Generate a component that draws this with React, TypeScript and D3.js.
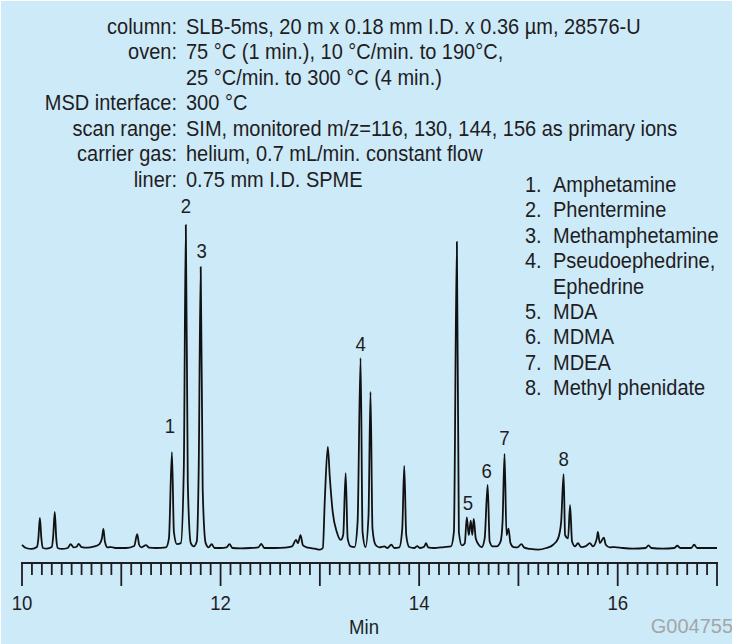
import { useEffect, useRef } from 'react';
import * as d3 from 'd3';

// chromatogram trace (time in min, signal as % of tallest peak)
const times = [
  10.0, 10.04, 10.1, 10.15, 10.165, 10.18, 10.195, 10.21, 10.25, 10.3, 10.315, 10.33, 10.345, 10.36,
  10.4, 10.46, 10.49, 10.52, 10.55, 10.57, 10.6, 10.66, 10.72, 10.78, 10.805, 10.82, 10.835, 10.86,
  10.9, 10.95, 11.05, 11.13, 11.16, 11.18, 11.2, 11.25, 11.28, 11.35, 11.45, 11.48, 11.51, 11.53,
  11.56, 11.6, 11.63, 11.65, 11.67, 11.7, 11.73, 11.76, 11.78, 11.8, 11.82, 11.85, 11.88, 11.91,
  11.94, 12.0, 12.06, 12.09, 12.12, 12.2, 12.3, 12.38, 12.41, 12.44, 12.55, 12.65, 12.72, 12.76,
  12.78, 12.805, 12.83, 12.88, 12.95, 13.0, 13.03, 13.05, 13.08, 13.1, 13.13, 13.17, 13.21, 13.235,
  13.26, 13.28, 13.31, 13.35, 13.38, 13.41, 13.43, 13.46, 13.49, 13.51, 13.53, 13.56, 13.6, 13.65,
  13.68, 13.72, 13.75, 13.8, 13.83, 13.85, 13.87, 13.9, 13.95, 13.98, 14.01, 14.05, 14.07, 14.09,
  14.15, 14.25, 14.32, 14.35, 14.38, 14.4, 14.43, 14.46, 14.48, 14.5, 14.52, 14.535, 14.55, 14.57,
  14.6, 14.63, 14.66, 14.69, 14.71, 14.74, 14.78, 14.82, 14.84, 14.86, 14.88, 14.9, 14.92, 14.95,
  14.99, 15.03, 15.06, 15.12, 15.2, 15.28, 15.35, 15.4, 15.43, 15.455, 15.47, 15.5, 15.52, 15.54,
  15.57, 15.6, 15.63, 15.68, 15.72, 15.75, 15.79, 15.8, 15.82, 15.86, 15.88, 15.92, 15.97, 16.05,
  16.15, 16.28, 16.31, 16.34, 16.45, 16.57, 16.6, 16.63, 16.74, 16.77, 16.8, 16.9, 17.0,
];
const signal = [
  1.0, 0, -0.3, 0.3, 3, 9.3, 3, 0, -0.2, 0.3, 4, 11.2, 3, 0,
  -0.3, 0, 1.2, 0.2, 0.4, 1.3, 0.3, 0.1, 0.4, 1.2, 3, 5.9, 2, 0.2,
  0.3, 0, 0, 0.6, 4.3, 1, 0.2, 0.9, 0.1, 0, 0.2, 3, 29.7, 5,
  1.2, 1.5, 25, 100, 20, 1.5, 0.5, 2, 25, 87, 18, 1.5, 0.2, 1.2,
  0, 0, 0.2, 1.2, 0, -0.1, 0, 0.2, 1.3, 0, 0, 0.1, 0.5, 2.5,
  1.5, 4, 0.8, 0.1, -0.2, -0.5, 0, 15, 31.3, 22, 11, 5, 2.5, 4,
  23.2, 3, 0.5, 0.3, 8, 58.8, 5, 0.3, 10, 48.3, 6, 1, 0.2, 0.5,
  0, 1, 0, 0.2, 6, 25.4, 4, 0.3, 0, 0.6, 0, 0.4, 1.5, 0.2,
  0, 0.3, 0.5, 5, 94.8, 5, 0.8, 1.5, 9.5, 4, 8.5, 4, 9, 3,
  1, 0.3, 3, 19.5, 2, 0.5, 0.5, 2, 8, 29.1, 4, 6, 1.5, 0.3,
  0.2, 1.2, 0.1, -0.3, -0.5, 0, 1, 3, 8, 22.9, 4, 3, 13.3, 2,
  0.5, 1.5, 0.3, 0.6, 1.5, 0.5, 3, 5, 1.5, 3.2, 1, 0.2, 0.3, 0,
  -0.2, 0, 0.8, 0, -0.2, 0, 0.7, 0, 0, 1, 0, 0, 0,
];

const peakNumbers = ['1', '2', '3', '4', '5', '6', '7', '8'];
const peakLabelTimes = [11.49, 11.65, 11.81, 13.41, 14.49, 14.68, 14.86, 15.455];
const peakLabelLevels = [37.8, 105.8, 91.9, 63.2, 14, 23.8, 34.1, 27.6];

const compounds = [
  'Amphetamine',
  'Phentermine',
  'Methamphetamine',
  'Pseudoephedrine,',
  'Ephedrine',
  'MDA',
  'MDMA',
  'MDEA',
  'Methyl phenidate',
];
const compoundNumbers = ['1.', '2.', '3.', '4.', '', '5.', '6.', '7.', '8.'];

const conditionLabels = ['column:', 'oven:', '', 'MSD interface:', 'scan range:', 'carrier gas:', 'liner:'];
const conditionValues = [
  'SLB-5ms, 20 m x 0.18 mm I.D. x 0.36 µm, 28576-U',
  '75 °C (1 min.), 10 °C/min. to 190°C,',
  '25 °C/min. to 300 °C (4 min.)',
  '300 °C',
  'SIM, monitored m/z=116, 130, 144, 156 as primary ions',
  'helium, 0.7 mL/min. constant flow',
  '0.75 mm I.D. SPME',
];

const tickLabels = [10, 12, 14, 16];
const timeDomain = [10, 17];

const App = () => {
  const ref = useRef<SVGSVGElement>(null);

  useEffect(() => {
    const svg = d3.select(ref.current);
    svg.selectAll('*').remove();

    const width = 732;
    const height = 644;
    const font = "'Liberation Sans', Arial, Helvetica, sans-serif";
    const ink = '#1f1d22';
    // the original type is a condensed grotesque: squeeze a regular sans a bit
    const squeeze = 0.93;

    svg.attr('width', width).attr('height', height);

    svg.append('rect').attr('width', width).attr('height', height).attr('fill', '#ffffff');
    svg.append('rect')
      .attr('x', 1)
      .attr('y', 1)
      .attr('width', width - 1)
      .attr('height', height - 1)
      .attr('fill', '#cdeaf9');

    const x = d3.scaleLinear().domain(timeDomain).range([22, 717]);
    const y = d3.scaleLinear().domain([0, 100]).range([548, 225]);

    const addText = (g, tx, ty, str, anchor = 'start') =>
      g.append('text')
        .attr('transform', `translate(${tx},${ty}) scale(${squeeze},1)`)
        .attr('text-anchor', anchor)
        .text(str);

    // conditions block
    const cond = svg.append('g')
      .style('font-family', font)
      .style('font-size', '21.5px')
      .attr('fill', ink);
    conditionLabels.forEach((label, i) => {
      const by = 33.5 + i * 25.5;
      addText(cond, 177, by, label, 'end');
      addText(cond, 186, by, conditionValues[i]);
    });

    // compound list
    const legend = svg.append('g')
      .style('font-family', font)
      .style('font-size', '21.5px')
      .attr('fill', ink);
    compounds.forEach((name, i) => {
      const by = 192 + i * 25.4;
      addText(legend, 525, by, compoundNumbers[i]);
      addText(legend, 553, by, name);
    });

    // trace
    const line = d3.line<number>()
      .x((_, i) => x(times[i]))
      .y((d) => y(d))
      .curve(d3.curveMonotoneX);

    svg.append('path')
      .datum(signal)
      .attr('d', line)
      .attr('fill', 'none')
      .attr('stroke', '#111')
      .attr('stroke-width', 1.8)
      .attr('stroke-linejoin', 'round');

    // peak numbers
    const peaks = svg.append('g')
      .style('font-family', font)
      .style('font-size', '20px')
      .attr('fill', ink);
    peakNumbers.forEach((n, i) => {
      addText(peaks, x(peakLabelTimes[i]), y(peakLabelLevels[i]) + 7, n, 'middle');
    });

    // time axis
    const axisY = 563;
    const axis = svg.append('g').attr('stroke', ink);
    axis.append('line')
      .attr('x1', x(timeDomain[0]) - 1)
      .attr('x2', x(timeDomain[1]) + 1)
      .attr('y1', axisY)
      .attr('y2', axisY)
      .attr('stroke-width', 2.2);

    const ticks = d3.range(timeDomain[0] * 10, timeDomain[1] * 10 + 1).map((d) => d / 10);
    axis.selectAll('line.tick')
      .data(ticks)
      .enter()
      .append('line')
      .attr('class', 'tick')
      .attr('x1', (d) => x(d))
      .attr('x2', (d) => x(d))
      .attr('y1', axisY)
      .attr('y2', (d) => (Math.abs(d - Math.round(d)) < 1e-6 ? axisY + 23 : axisY + 12))
      .attr('stroke-width', 1.8);

    const tickText = svg.append('g')
      .style('font-family', font)
      .style('font-size', '20px')
      .attr('fill', ink);
    tickLabels.forEach((d) => addText(tickText, x(d), 610, String(d), 'middle'));
    addText(tickText, 364, 634, 'Min', 'middle');

    svg.append('text')
      .attr('x', 733)
      .attr('y', 633)
      .attr('text-anchor', 'end')
      .style('font-family', font)
      .style('font-size', '20px')
      .attr('fill', '#a3a6a8')
      .text('G004755');
  }, []);

  return <svg ref={ref} style={{ position: 'absolute', left: 0, top: 0 }}></svg>;
};

export default App;
